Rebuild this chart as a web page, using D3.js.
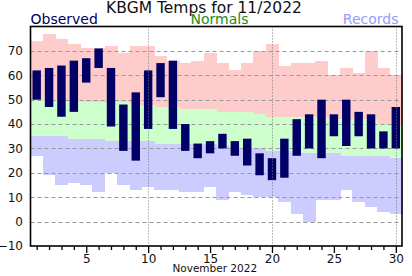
<!DOCTYPE html>
<html><head><meta charset="utf-8">
<script src="https://cdn.jsdelivr.net/npm/d3@7"></script>
<style>
html,body{margin:0;padding:0;background:#fff;}
svg{display:block;font-family:"DejaVu Sans",Verdana,sans-serif;}
</style></head>
<body>
<svg id="chart" width="412" height="276"></svg>
<script>
const days = d3.range(1, 31);
const obsHigh = [62,63,64,66,67,71,63,48,53,62,65,66,40,32,33,36,33,34,28,26,34,42,44,50,44,50,45,44,37,47];
const obsLow  = [50,47,43,45,57,63,39,29,25,38,51,38,29,26,28,30,27,23,19,17,18,27,30,26,35,31,35,30,30,30];
const recHigh = [74,77,75,73,71,71,72,69,72,72,68,66,65,66,69,65,62,65,70,73,64,65,65,66,60,63,61,70,63,60];
const normHigh= [50,50,50,50,49,49,49,49,48,48,47,47,46,46,46,45,45,45,44,43,43,43,43,43,42,42,42,42,40,39];
const normLow = [35,35,35,34,34,34,33,33,33,33,32,32,32,32,32,31,30,30,30,29,29,28,28,28,28,27,27,27,27,26];
const recLow  = [27,19,15,16,15,12,20,15,13,14,13,13,12,12,14,9,12,11,10,10,8,3,0,9,9,13,8,6,4,3];
const yTicks = [-10,0,10,20,30,40,50,60,70];
const gridVals = [0,10,20,30,40,50,60,70];
const vGridDays = [10,20,30];
const title = "KBGM Temps for 11/2022";
const xLabel = "November 2022";

const L = 30.5, R = 402, T = 26.5, B = 246;
const svg = d3.select("#chart");
const x = d3.scaleLinear().domain([0.5, 30.5]).range([L, R]);
const y = d3.scaleLinear().domain([-10, 80]).range([B, T]);
const dw = x(2) - x(1);

const data = days.map((d,i)=>({d, oh:obsHigh[i], ol:obsLow[i], rh:recHigh[i], nh:normHigh[i], nl:normLow[i], rl:recLow[i]}));

// bands
const bands = svg.append("g");
function band(top, bot, color){
  bands.append("g").selectAll("rect").data(data).join("rect")
    .attr("x", d=>x(d.d-0.5)).attr("width", dw+0.5)
    .attr("y", d=>y(top(d))).attr("height", d=>Math.max(0, y(bot(d))-y(top(d))))
    .attr("fill", color).attr("shape-rendering","crispEdges");
}
band(d=>d.rh, d=>d.nh, "#ffcccc");
band(d=>d.nh, d=>d.nl, "#ccffcc");
band(d=>d.nl, d=>d.rl, "#ccccff");

// horizontal dashed grid
svg.append("g").selectAll("line").data(gridVals).join("line")
  .attr("x1", L).attr("x2", R).attr("y1", d=>Math.round(y(d))+0.5).attr("y2", d=>Math.round(y(d))+0.5)
  .attr("stroke", "#999").attr("stroke-dasharray","4,3").attr("stroke-width",1);

// observed bars
const bw = dw*0.68;
svg.append("g").selectAll("rect").data(data).join("rect")
  .attr("x", d=>x(d.d)-bw/2).attr("width", bw)
  .attr("y", d=>y(d.oh)).attr("height", d=>y(d.ol)-y(d.oh))
  .attr("fill", "#000066");

// vertical dotted grid
svg.append("g").selectAll("line").data(vGridDays).join("line")
  .attr("x1", d=>Math.round(x(d))+0.5).attr("x2", d=>Math.round(x(d))+0.5).attr("y1", T).attr("y2", B)
  .attr("stroke", "#777").attr("stroke-dasharray","1,2").attr("stroke-width",1);

// frame
svg.append("rect").attr("x", L).attr("y", T).attr("width", R-L).attr("height", B-T)
  .attr("fill","none").attr("stroke","#000").attr("stroke-width",1.6);

// y axis
const ya = svg.append("g").attr("transform", `translate(${L},0)`)
  .call(d3.axisLeft(y).tickValues(yTicks).tickSize(0).tickPadding(7.5));
ya.select(".domain").remove();
ya.selectAll("text").attr("font-size", 12).attr("font-family","DejaVu Sans").attr("fill","#111");

// x axis
const xa = svg.append("g").attr("transform", `translate(0,${B})`)
  .call(d3.axisBottom(x).tickValues(days).tickSize(4).tickFormat(d=> d%5===0 ? d : ""));
xa.select(".domain").remove();
xa.selectAll(".tick line").attr("stroke","#000").attr("stroke-width",1.3)
  .attr("y2", d=> d%5===0 ? 7 : 4);
xa.selectAll("text").attr("font-size", 12).attr("font-family","DejaVu Sans").attr("fill","#111")
  .attr("y", 8.3);

svg.append("text").attr("x", (x(0.5)+x(30.5))/2 - 1.5).attr("y", 271.5).attr("text-anchor","middle")
  .attr("font-size", 10.5).attr("fill","#111").text(xLabel);

// titles
svg.append("text").attr("x", 204).attr("y", 12.5).attr("text-anchor","middle")
  .attr("font-size", 15.5).attr("fill","#111").text(title);
svg.append("text").attr("x", 30.5).attr("y", 24).attr("font-size", 14).attr("fill","#000066").text("Observed");
svg.append("text").attr("x", 219.5).attr("y", 24).attr("text-anchor","middle").attr("font-size", 14).attr("fill","#228b22").text("Normals");
svg.append("text").attr("x", 398.5).attr("y", 24).attr("text-anchor","end").attr("font-size", 14).attr("fill","#9999ff").text("Records");
</script>
</body></html>
